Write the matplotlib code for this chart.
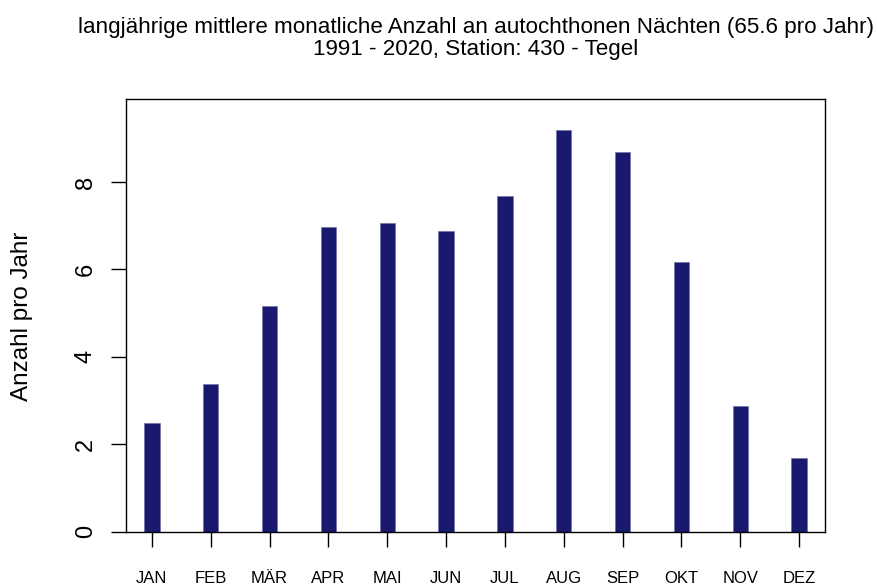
import matplotlib
matplotlib.use("Agg")
import matplotlib.pyplot as plt
import numpy as np

plt.rcParams['font.family'] = ['Liberation Sans', 'DejaVu Sans']

months = ["JAN", "FEB", "MÄR", "APR", "MAI", "JUN", "JUL", "AUG", "SEP", "OKT", "NOV", "DEZ"]
values = [2.48, 3.37, 5.17, 6.98, 7.07, 6.88, 7.68, 9.18, 8.68, 6.18, 2.88, 1.68]
yticks = [0, 2, 4, 6, 8]
title_line1 = "langjährige mittlere monatliche Anzahl an autochthonen Nächten (65.6 pro Jahr)"
title_line2 = "1991 - 2020, Station: 430 - Tegel"
ylabel = "Anzahl pro Jahr"

W, H = 877, 587
fig = plt.figure(figsize=(W / 100, H / 100), dpi=100)
l, r, t, b = 126, 825, 99, 531.7
ax = fig.add_axes([l / W, (H - b) / H, (r - l) / W, (b - t) / H])

x = np.arange(1, len(months) + 1)
ax.bar(x, values, width=0.26, color="#191970", edgecolor="#6a6aa0", linewidth=0.4)
ax.set_xlim(0.56, 12.44)
ax.set_ylim(0, 9.9)

ax.set_yticks(yticks)
ax.set_yticklabels([str(v) for v in yticks], rotation=90, va="center", fontsize=17)
ax.set_xticks(x)
ax.set_xticklabels(months, fontsize=12)
ax.tick_params(axis="y", direction="out", length=11, width=1, pad=10)
ax.tick_params(axis="x", direction="out", length=11, width=1, pad=17)
for s in ax.spines.values():
    s.set_linewidth(1)
    s.set_color("black")

cx = (l + r) / 2 / W
fig.text(cx, 1 - 27 / H, title_line1, fontsize=16.1, ha="center", va="center")
fig.text(cx, 1 - 50 / H, title_line2, fontsize=16.1, ha="center", va="center")
fig.text(22 / W, 1 - 316 / H, ylabel, fontsize=17.5, rotation=90, ha="center", va="center")

fig.savefig("out.png", dpi=100)
